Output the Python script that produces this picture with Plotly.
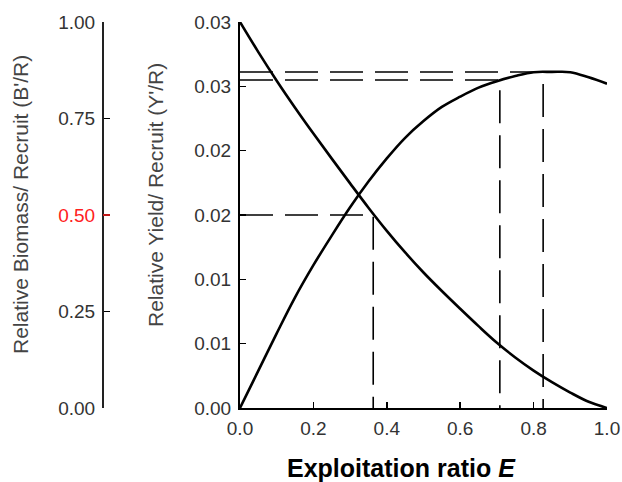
import plotly.graph_objects as go

# Data
E = [0.0, 0.05, 0.1, 0.15, 0.2, 0.25, 0.3, 0.35, 0.4, 0.45, 0.5, 0.55, 0.6, 0.65, 0.7, 0.75, 0.8, 0.85, 0.9, 0.95, 1.0]
yield_per_recruit = [0.0, 0.0029, 0.0058, 0.0086, 0.0111, 0.0134, 0.0156, 0.0176, 0.0194, 0.0210, 0.0223, 0.0234, 0.0242, 0.0249, 0.0254, 0.0258, 0.0261, 0.02612, 0.0261, 0.0257, 0.0252]
biomass_per_recruit = [1.0, 0.922, 0.848, 0.778, 0.711, 0.646, 0.582, 0.519, 0.459, 0.403, 0.351, 0.303, 0.257, 0.212, 0.169, 0.131, 0.097, 0.067, 0.040, 0.016, 0.0]

E_50, B_50 = 0.363, 0.5
E_01, Y_01 = 0.708, 0.02549
E_max, Y_max = 0.826, 0.02611

x_tickvals = [0.0, 0.2, 0.4, 0.6, 0.8, 1.0]
x_ticktext = ["0.0", "0.2", "0.4", "0.6", "0.8", "1.0"]
y_tickvals = [0.0, 0.005, 0.01, 0.015, 0.02, 0.025, 0.03]
y_ticktext = ["0.00", "0.01", "0.01", "0.02", "0.02", "0.03", "0.03"]
b_tickvals = [0.0, 0.25, 0.5, 0.75, 1.0]
b_ticktext = ["0.00", "0.25", "<span style='color:#ff2020'>0.50</span>", "0.75", "1.00"]

FONT = "Liberation Sans, Arial, sans-serif"
W, H = 622, 482
ML, MR, MT, MB = 0, 15, 22, 74
paper_w = W - ML - MR
paper_h = H - MT - MB
plot_left = 240
left_axis_px = 103

DASH = "33px,12px"

fig = go.Figure()

fig.add_trace(go.Scatter(x=E, y=yield_per_recruit, mode="lines",
                         line=dict(color="black", width=2.6, shape="spline", smoothing=1),
                         xaxis="x", yaxis="y", showlegend=False))
fig.add_trace(go.Scatter(x=E, y=biomass_per_recruit, mode="lines",
                         line=dict(color="black", width=2.6, shape="spline", smoothing=1),
                         xaxis="x", yaxis="y2", showlegend=False))

# reference dashed lines
fig.add_trace(go.Scatter(x=[0, E_max, E_max], y=[Y_max, Y_max, 0], mode="lines",
                         line=dict(color="black", width=1.6, dash=DASH),
                         xaxis="x", yaxis="y", showlegend=False))
fig.add_trace(go.Scatter(x=[0, E_01, E_01], y=[Y_01, Y_01, 0], mode="lines",
                         line=dict(color="black", width=1.6, dash=DASH),
                         xaxis="x", yaxis="y", showlegend=False))
fig.add_trace(go.Scatter(x=[0, E_50, E_50], y=[B_50, B_50, 0], mode="lines",
                         line=dict(color="black", width=1.6, dash=DASH),
                         xaxis="x", yaxis="y2", showlegend=False))

tickfont = dict(family=FONT, size=19, color="#333333")

fig.update_layout(
    width=W, height=H,
    margin=dict(l=ML, r=MR, t=MT, b=MB, autoexpand=False),
    paper_bgcolor="white", plot_bgcolor="white",
    xaxis=dict(domain=[plot_left / paper_w, 1], range=[0, 1],
               tickvals=x_tickvals, ticktext=x_ticktext,
               ticks="inside", ticklen=6, tickwidth=1.5, tickcolor="black",
               showline=True, linecolor="black", linewidth=2,
               showgrid=False, zeroline=False, tickfont=tickfont,
               ticklabelstandoff=2, automargin=False, fixedrange=True),
    yaxis=dict(range=[0, 0.03], tickvals=y_tickvals, ticktext=y_ticktext,
               ticks="inside", ticklen=6, tickwidth=1.5, tickcolor="black",
               showline=True, linecolor="black", linewidth=2,
               showgrid=False, zeroline=False, tickfont=tickfont,
               ticklabelstandoff=3, automargin=False, fixedrange=True),
    yaxis2=dict(range=[0, 1], tickvals=b_tickvals, ticktext=b_ticktext,
                overlaying="y", anchor="free", position=left_axis_px / paper_w, side="left",
                ticks="inside", ticklen=6, tickwidth=1.5, tickcolor="black",
                showline=True, linecolor="#222222", linewidth=2,
                showgrid=False, zeroline=False, tickfont=tickfont,
                ticklabelstandoff=3, automargin=False, fixedrange=True),
    shapes=[dict(type="line", xref="paper", yref="y2",
                 x0=left_axis_px / paper_w, x1=(left_axis_px + 7) / paper_w,
                 y0=0.5, y1=0.5, line=dict(color="#ff2020", width=1.5))],
    annotations=[
        dict(text="Relative Yield/ Recruit (Y'/R)", textangle=-90,
             xref="paper", yref="paper", x=155 / paper_w, y=(408 - 195) / paper_h,
             xanchor="center", yanchor="middle", showarrow=False,
             font=dict(family=FONT, size=21, color="#444444")),
        dict(text="Relative Biomass/ Recruit (B'/R)", textangle=-90,
             xref="paper", yref="paper", x=20 / paper_w, y=(408 - 205) / paper_h,
             xanchor="center", yanchor="middle", showarrow=False,
             font=dict(family=FONT, size=21, color="#444444")),
        dict(text="<b>Exploitation ratio <i>E</i></b>",
             xref="paper", yref="paper", x=401 / paper_w, y=(408 - 468) / paper_h,
             xanchor="center", yanchor="middle", showarrow=False,
             font=dict(family=FONT, size=25, color="black")),
    ],
)

fig.write_html("out.html",
               config={"displayModeBar": False, "staticPlot": True},
               post_script="document.body.style.margin='0';document.body.style.padding='0';")
